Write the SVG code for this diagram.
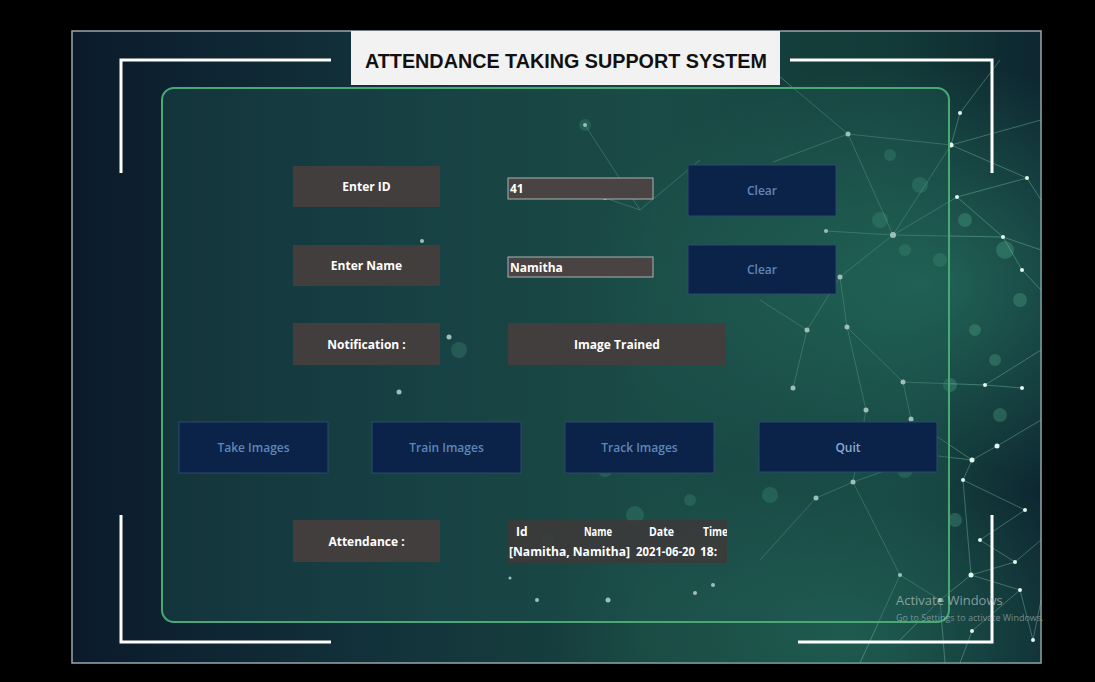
<svg xmlns="http://www.w3.org/2000/svg" width="1095" height="682" viewBox="0 0 1095 682">
<defs>
<linearGradient id="bg" x1="0" y1="0" x2="1" y2="0">
<stop offset="0" stop-color="#0b1a2b"/>
<stop offset="0.3" stop-color="#12313a"/>
<stop offset="0.6" stop-color="#18443f"/>
<stop offset="0.85" stop-color="#123a38"/>
<stop offset="1" stop-color="#0d2630"/>
</linearGradient>
<radialGradient id="glow" cx="0.88" cy="0.4" r="0.35">
<stop offset="0" stop-color="#2f8a70" stop-opacity="0.55"/>
<stop offset="1" stop-color="#2f8a70" stop-opacity="0"/>
</radialGradient>
<radialGradient id="glow2" cx="0.8" cy="0.95" r="0.3">
<stop offset="0" stop-color="#2a7a66" stop-opacity="0.5"/>
<stop offset="1" stop-color="#2a7a66" stop-opacity="0"/>
</radialGradient>
<clipPath id="tbl"><rect x="508" y="520" width="219" height="43"/></clipPath>
</defs>
<style>
.lbl{fill:#423e3e}
.fld{fill:#4a4343;stroke:#a8b4b0;stroke-width:1}
.btn{fill:#0b2348;stroke:#2b4a6e;stroke-width:1}
.tw{font-family:"Open Sans","Noto Sans",sans-serif;font-weight:700;font-size:12px;fill:#ffffff}
.tb{font-family:"Open Sans","Noto Sans",sans-serif;font-weight:600;font-size:12px;fill:#5f86b8}
.br{stroke:#ffffff;stroke-width:3;fill:none}
.net{stroke:#8fd6bc;stroke-width:0.8;stroke-opacity:0.45;fill:none}
.dot{fill:#dff7ec}
.bok{fill:#5fc7a0;fill-opacity:0.25}
</style>
<rect x="0" y="0" width="1095" height="682" fill="#000000"/>
<g id="frame">
<rect x="72" y="31" width="969" height="632" fill="url(#bg)" stroke="#9aa6ad" stroke-width="1.5"/>
<rect x="72" y="31" width="969" height="632" fill="url(#glow)"/>
<rect x="72" y="31" width="969" height="632" fill="url(#glow2)"/>
</g>
<g id="network">
<circle class="bok" cx="585" cy="125" r="6"/>
<circle class="bok" cx="890" cy="155" r="6"/>
<circle class="bok" cx="920" cy="185" r="8"/>
<circle class="bok" cx="965" cy="220" r="7"/>
<circle class="bok" cx="1005" cy="250" r="9"/>
<circle class="bok" cx="1020" cy="300" r="7"/>
<circle class="bok" cx="940" cy="260" r="7"/>
<circle class="bok" cx="975" cy="330" r="6"/>
<circle class="bok" cx="880" cy="220" r="8"/>
<circle class="bok" cx="905" cy="250" r="6"/>
<circle class="bok" cx="950" cy="385" r="7"/>
<circle class="bok" cx="995" cy="360" r="6"/>
<circle class="bok" cx="459" cy="350" r="8"/>
<circle class="bok" cx="605" cy="470" r="7"/>
<circle class="bok" cx="635" cy="515" r="9"/>
<circle class="bok" cx="690" cy="500" r="6"/>
<circle class="bok" cx="770" cy="495" r="8"/>
<circle class="bok" cx="548" cy="540" r="6"/>
<circle class="bok" cx="905" cy="470" r="8"/>
<circle class="bok" cx="955" cy="520" r="7"/>
<circle class="bok" cx="1000" cy="415" r="7"/>
<path class="net" d="M760 60 L848 134 L951 145 L1041 120 M848 134 L773 162 M848 134 L893 235 L951 145 L960 113 L1000 60 M951 145 L1027 178 L1041 200 M826 231 L893 235 L840 277 L807 330 M840 277 L847 327 L866 410 M893 235 L957 197 L1027 178 M893 235 L1003 237 L1041 250 M1003 237 L1022 270 L1041 290 M957 197 L1003 237 M807 330 L793 388 M847 327 L903 382 L911 419 M903 382 L985 385 L1022 388 M911 419 L972 460 L997 446 L1041 420 M972 460 L963 480 L1025 510 M866 410 L853 482 L816 498 M853 482 L930 455 L972 460 M963 480 L971 575 L1015 562 L1041 540 M971 575 L1020 590 L1033 640 M971 575 L940 600 L900 640 M1015 562 L980 540 L1025 510 M940 600 L945 663 M1020 590 L972 631 L960 663 M900 575 L940 600 M853 482 L900 575 M816 498 L760 560 M585 125 L640 210 L700 160 M640 210 L605 198 M900 575 L860 663 M1033 640 L1041 600 M985 385 L1041 350 M807 330 L760 300"/>
<g class="dot">
<circle cx="422" cy="241" r="2"/>
<circle cx="449" cy="337" r="2.5"/>
<circle cx="399" cy="392" r="2.5"/>
<circle cx="585" cy="125" r="2"/>
<circle cx="848" cy="134" r="2.5"/>
<circle cx="951" cy="145" r="2.5"/>
<circle cx="960" cy="113" r="2"/>
<circle cx="1027" cy="178" r="2"/>
<circle cx="826" cy="231" r="2"/>
<circle cx="893" cy="235" r="3"/>
<circle cx="840" cy="277" r="2.5"/>
<circle cx="807" cy="330" r="2.5"/>
<circle cx="847" cy="327" r="2.5"/>
<circle cx="903" cy="382" r="2.5"/>
<circle cx="866" cy="410" r="2.5"/>
<circle cx="911" cy="419" r="2.5"/>
<circle cx="793" cy="388" r="2.5"/>
<circle cx="957" cy="197" r="2"/>
<circle cx="1003" cy="237" r="2"/>
<circle cx="1022" cy="270" r="2"/>
<circle cx="985" cy="385" r="2"/>
<circle cx="1022" cy="388" r="2"/>
<circle cx="997" cy="446" r="2.5"/>
<circle cx="972" cy="460" r="2.5"/>
<circle cx="963" cy="480" r="2"/>
<circle cx="853" cy="482" r="2.5"/>
<circle cx="816" cy="498" r="2.5"/>
<circle cx="930" cy="455" r="2"/>
<circle cx="1025" cy="510" r="2"/>
<circle cx="971" cy="575" r="2.5"/>
<circle cx="1015" cy="562" r="2"/>
<circle cx="1020" cy="590" r="2"/>
<circle cx="940" cy="600" r="2"/>
<circle cx="900" cy="575" r="2"/>
<circle cx="980" cy="540" r="2"/>
<circle cx="1033" cy="640" r="2"/>
<circle cx="972" cy="631" r="2"/>
<circle cx="510" cy="578" r="1.5"/>
<circle cx="537" cy="600" r="2"/>
<circle cx="608" cy="600" r="2.5"/>
<circle cx="695" cy="593" r="2"/>
<circle cx="713" cy="585" r="2"/>
<circle cx="605" cy="198" r="2"/>
<circle cx="567" cy="462" r="2"/>
<circle cx="810" cy="275" r="2"/>
</g>
</g>
<g id="title">
<rect x="351" y="31" width="429" height="54" fill="#f2f2f2"/>
<text x="566" y="68" text-anchor="middle" textLength="402" lengthAdjust="spacingAndGlyphs" font-family="Liberation Sans, Arial, sans-serif" font-weight="700" font-size="20" fill="#111111">ATTENDANCE TAKING SUPPORT SYSTEM</text>
</g>
<g id="brackets">
<path class="br" d="M331 60 H121 V173"/>
<path class="br" d="M790 60 H992 V173"/>
<path class="br" d="M121 515 V642 H331"/>
<path class="br" d="M798 642 H992 V515"/>
</g>
<g id="panel">
<rect x="162" y="88" width="787" height="534" rx="12" fill="#1f5a52" fill-opacity="0.35" stroke="#4aa874" stroke-width="2"/>
</g>
<g id="enter-id">
<rect class="lbl" x="293" y="166" width="147" height="41"/>
<text class="tw" x="366.5" y="191" text-anchor="middle">Enter ID</text>
</g>
<g id="id-field">
<rect class="fld" x="508" y="178" width="145" height="21"/>
<text class="tw" x="510" y="193">41</text>
</g>
<g id="clear-1">
<rect class="btn" x="688" y="165" width="148" height="51"/>
<text class="tb" x="762" y="195" text-anchor="middle">Clear</text>
</g>
<g id="enter-name">
<rect class="lbl" x="293" y="245" width="147" height="41"/>
<text class="tw" x="366.5" y="270" text-anchor="middle">Enter Name</text>
</g>
<g id="name-field">
<rect class="fld" x="508" y="257" width="145" height="20"/>
<text class="tw" x="510" y="272">Namitha</text>
</g>
<g id="clear-2">
<rect class="btn" x="688" y="245" width="148" height="49"/>
<text class="tb" x="762" y="274" text-anchor="middle">Clear</text>
</g>
<g id="notification">
<rect class="lbl" x="293" y="323" width="147" height="42"/>
<text class="tw" x="366.5" y="349" text-anchor="middle">Notification :</text>
</g>
<g id="notification-value">
<rect class="lbl" x="508" y="323" width="218" height="42"/>
<text class="tw" x="617" y="349" text-anchor="middle">Image Trained</text>
</g>
<g id="take-images">
<rect class="btn" x="179" y="422" width="149" height="51"/>
<text class="tb" x="253.5" y="452" text-anchor="middle">Take Images</text>
</g>
<g id="train-images">
<rect class="btn" x="372" y="422" width="149" height="51"/>
<text class="tb" x="446.5" y="452" text-anchor="middle">Train Images</text>
</g>
<g id="track-images">
<rect class="btn" x="565" y="422" width="149" height="51"/>
<text class="tb" x="639.5" y="452" text-anchor="middle">Track Images</text>
</g>
<g id="quit">
<rect class="btn" x="759" y="422" width="178" height="50"/>
<text class="tb" x="848" y="452" text-anchor="middle" font-size="14" style="fill:#8fa9cf">Quit</text>
</g>
<g id="attendance">
<rect class="lbl" x="293" y="520" width="147" height="42"/>
<text class="tw" x="366.5" y="546" text-anchor="middle">Attendance :</text>
</g>
<g id="attendance-table">
<rect x="508" y="520" width="219" height="43" fill="#3c3a3a" fill-opacity="0.9"/>
<g clip-path="url(#tbl)">
<text class="tw" y="536" font-size="11.5"><tspan x="516">Id</tspan><tspan x="584" textLength="28" lengthAdjust="spacingAndGlyphs">Name</tspan><tspan x="649" textLength="25" lengthAdjust="spacingAndGlyphs">Date</tspan><tspan x="703" textLength="25" lengthAdjust="spacingAndGlyphs">Time</tspan></text>
<text class="tw" y="556" font-size="11.5"><tspan x="509" textLength="121" lengthAdjust="spacingAndGlyphs">[Namitha, Namitha]</tspan><tspan x="636" textLength="59" lengthAdjust="spacingAndGlyphs">2021-06-20</tspan><tspan x="700">18:</tspan></text>
</g>
</g>
<g id="watermark">
<text x="896" y="605" font-family="Open Sans, Noto Sans, sans-serif" font-size="13" fill="#c4cece" fill-opacity="0.65">Activate Windows</text>
<text x="896" y="621" font-family="Open Sans, Noto Sans, sans-serif" font-size="9" fill="#c4cece" fill-opacity="0.55">Go to Settings to activate Windows.</text>
</g>
</svg>
